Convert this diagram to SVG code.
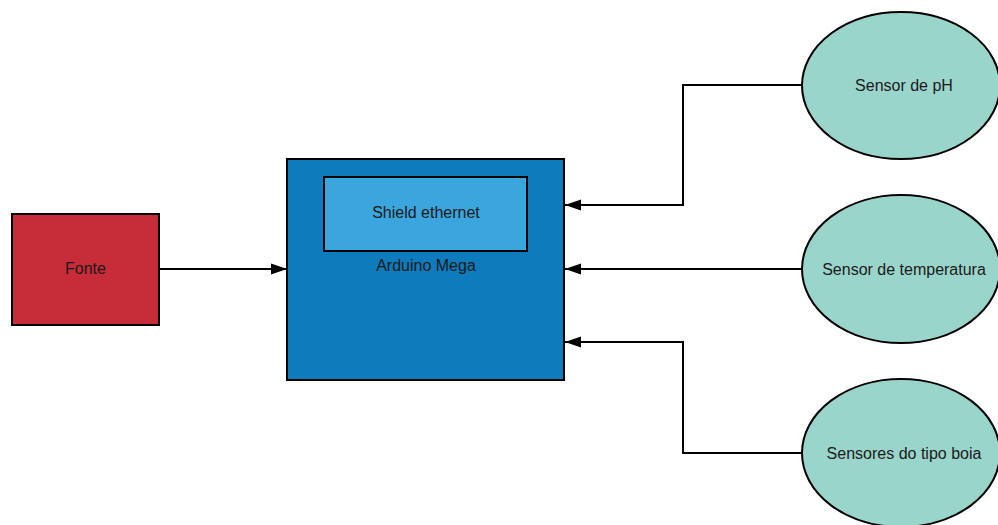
<svg xmlns="http://www.w3.org/2000/svg" width="998" height="525" viewBox="0 0 998 525">
  <defs>
    <marker id="arrow" markerWidth="16" markerHeight="12" refX="16" refY="6" orient="auto" markerUnits="userSpaceOnUse">
      <path d="M0,0.5 L16,6 L0,11.5 Z" fill="#000"/>
    </marker>
    <style>
      .box { stroke: #000; stroke-width: 2; }
      .label { font-family: "Liberation Sans", Arial, sans-serif; font-size: 16px; fill: #1a1a1a; text-anchor: middle; }
      .wire { fill: none; stroke: #000; stroke-width: 2; marker-end: url(#arrow); }
      .sensor { fill: #9ad5cb; stroke: #000; stroke-width: 2; }
    </style>
  </defs>
  <rect width="998" height="525" fill="#fff"/>

  <g id="connectors">
    <path class="wire" d="M159,269 L287,269"/>
    <path class="wire" d="M802,85 L683,85 L683,205 L565,205"/>
    <path class="wire" d="M802,269 L565,269"/>
    <path class="wire" d="M802,453 L683,453 L683,342 L565,342"/>
  </g>

  <g id="fonte">
    <rect class="box" x="12" y="214" width="147" height="111" fill="#c72d38"/>
    <text class="label" x="85.5" y="274">Fonte</text>
  </g>

  <g id="arduino-mega">
    <rect class="box" x="287" y="159" width="277" height="221" fill="#0e7bbc"/>
    <text class="label" x="426" y="270.5">Arduino Mega</text>
  </g>

  <g id="shield-ethernet">
    <rect class="box" x="324" y="177" width="203" height="74" fill="#3ba5dd"/>
    <text class="label" x="426" y="218">Shield ethernet</text>
  </g>

  <g id="sensor-ph">
    <ellipse class="sensor" cx="901" cy="85.5" rx="99" ry="73.5"/>
    <text class="label" x="904" y="91">Sensor de pH</text>
  </g>

  <g id="sensor-temperatura">
    <ellipse class="sensor" cx="901" cy="269" rx="99" ry="74"/>
    <text class="label" x="904" y="275">Sensor de temperatura</text>
  </g>

  <g id="sensores-boia">
    <ellipse class="sensor" cx="901" cy="453" rx="99" ry="74"/>
    <text class="label" x="904" y="459">Sensores do tipo boia</text>
  </g>
</svg>
